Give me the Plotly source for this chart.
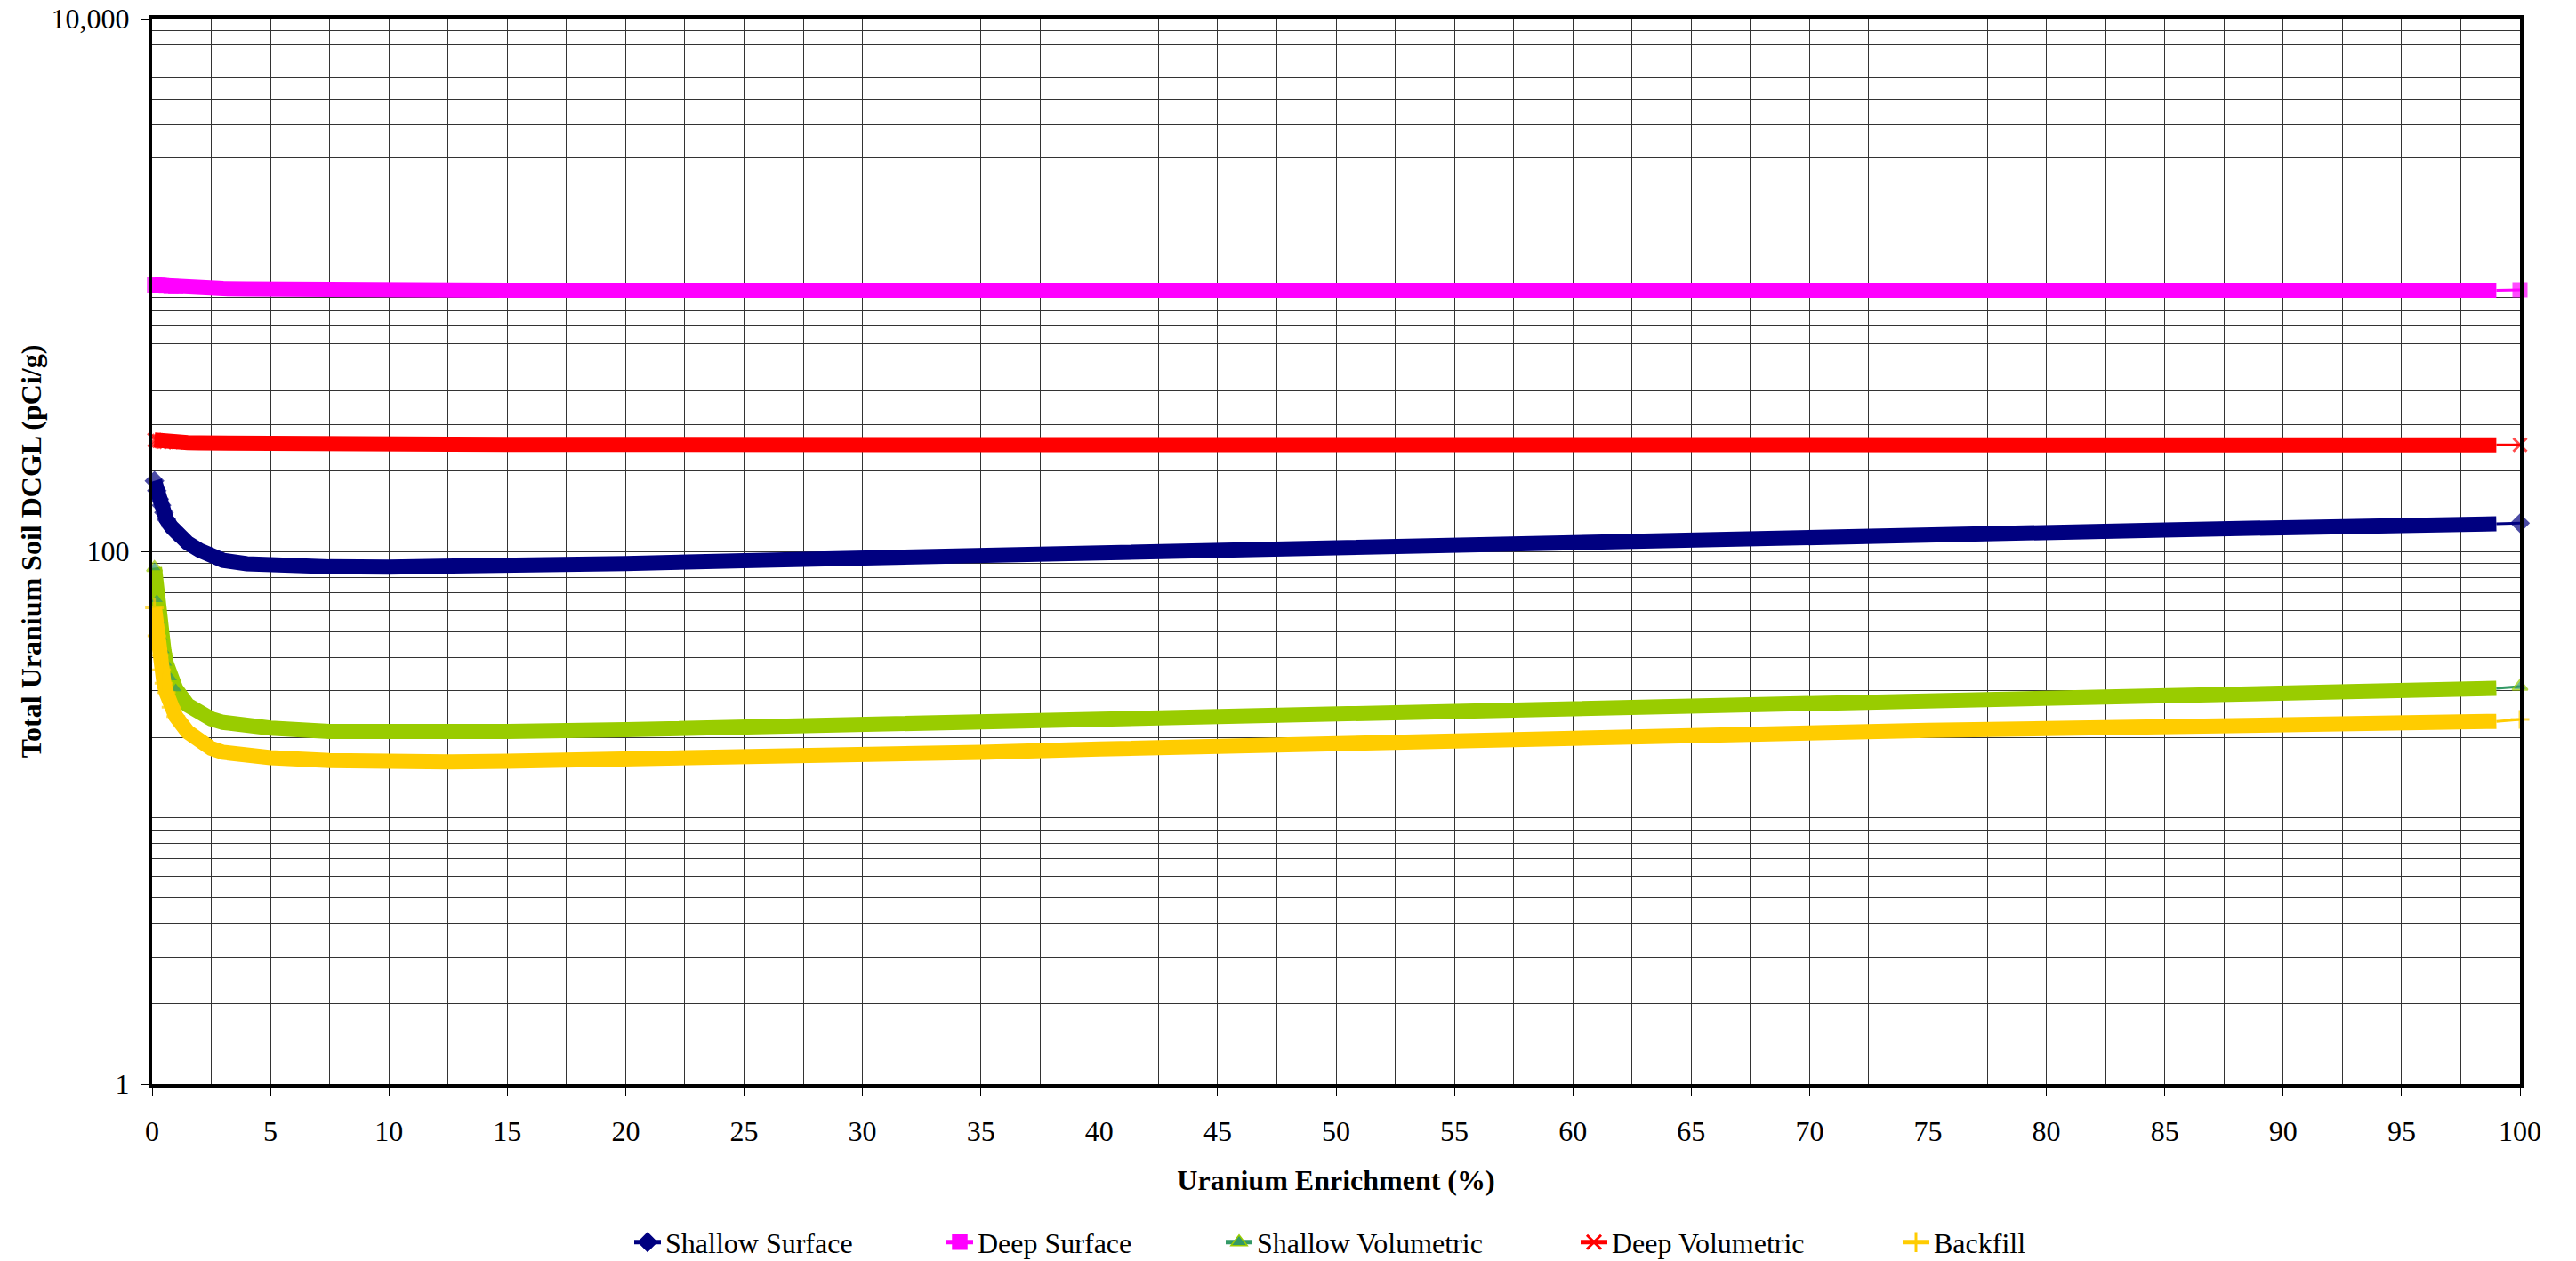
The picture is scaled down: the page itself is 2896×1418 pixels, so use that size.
import plotly.graph_objects as go

# ---------------- data ----------------
enrichment = [0.1, 0.2, 0.3, 0.4, 0.5, 0.6, 0.8, 1.0, 1.5, 2.0, 2.5, 3, 4, 5, 7.5, 10, 12.5, 15,
              20, 25, 30, 35, 40, 45, 50, 55, 60, 65, 70, 75, 80, 85, 90, 95, 99, 100]

shallow_surface = [184, 169, 157, 149, 140, 132, 124, 118, 107.5, 101, 95.7, 92.5, 89.8, 88.4,
                   87.5, 87.3, 87.6, 88.2, 90, 92.3, 94.6, 96.6, 99.4, 101.8, 104, 106.4, 108.8,
                   111.3, 113.6, 115.8, 118, 120.3, 122.7, 125, 126.8, 127.6]

deep_surface = [1000, 998, 996, 994, 992, 990, 987, 984, 979, 975, 972, 969, 966, 963,
                959, 957, 956, 955, 955, 955, 955, 955, 955, 955, 955, 955, 955,
                955, 955, 955, 955, 955, 955, 955, 955, 958]

shallow_volumetric = [86.8, 65.9, 54.7, 47.5, 42.4, 38.0, 33.5, 30.5, 26.5, 24.6, 23.5, 22.8, 22.1, 21.7,
                      21.1, 21.0, 21.0, 21.1, 21.4, 21.9, 22.5, 23.1, 23.7, 24.3, 25.0, 25.6, 26.2,
                      26.9, 27.6, 28.2, 28.7, 29.3, 29.8, 30.3, 30.6, 31.1]

deep_volumetric = [262, 261, 260, 259, 258, 257.5, 257, 256.5, 256, 255.5, 255, 254.5, 254, 253.5,
                   253, 252.5, 252.5, 252, 252, 252, 252, 252, 252, 252, 252, 252, 251.5,
                   251.5, 251.5, 251.5, 251, 251, 251, 251, 251, 251]

backfill = [61.4, 48.2, 40.7, 35.9, 32.0, 29.5, 26.0, 24.0, 21.0, 19.3, 18.2, 17.6, 17.1, 16.8,
            16.4, 16.1, 16.2, 16.3, 16.5, 16.9, 17.3, 17.6, 18.1, 18.6, 19.1, 19.4, 19.9,
            20.4, 20.9, 21.3, 21.6, 22.0, 22.4, 22.8, 23.0, 23.4]

x_ticks = list(range(0, 101, 5))
y_tickvals = [1, 100, 10000]
y_ticktext = ["1", "100", "10,000"]

# ---------------- styling ----------------
FONT = "Liberation Serif"
series = [
    # name, data, band colour, thin line colour, symbol, marker fill, marker line colour, legend key
    ("Shallow Surface", shallow_surface, "#000080", "#000080", "diamond", "#000080", "#000080", "legend"),
    ("Deep Surface", deep_surface, "#FF00FF", "#FF00FF", "square", "#FF00FF", "#FF00FF", "legend2"),
    ("Shallow Volumetric", shallow_volumetric, "#99CC00", "#339966", "triangle-up", "#339966", "#99CC00", "legend3"),
    ("Deep Volumetric", deep_volumetric, "#FF0000", "#FF0000", "x-thin-open", "#FF0000", "#FF0000", "legend4"),
    ("Backfill", backfill, "#FFCC00", "#FFCC00", "cross-thin-open", "#FFCC00", "#FFCC00", "legend5"),
]

fig = go.Figure()
n_dense = len(enrichment) - 1  # last point sits apart at 100 %
# markers stand out individually only in the steep start of the curves
band_marker_size = [15 if x <= 1.0 else 0 for x in enrichment[:n_dense]]

for name, ys, band, thin, sym, mfill, mline, leg in series:
    open_sym = sym.endswith("open")
    mk_band = dict(symbol=sym, size=band_marker_size, color=mfill,
                   line=dict(color=mline, width=3 if open_sym else 2))
    mk_end = dict(symbol=sym, size=[0, 15], color=mfill,
                  line=dict(color=mline, width=3 if open_sym else 2))
    # dense band
    fig.add_trace(go.Scatter(
        x=enrichment[:n_dense], y=ys[:n_dense], mode="lines+markers",
        line=dict(color=band, width=17), marker=mk_band, cliponaxis=False,
        showlegend=False, hoverinfo="skip"))
    # thin connector to the final point
    fig.add_trace(go.Scatter(
        x=enrichment[n_dense - 1:], y=ys[n_dense - 1:], mode="lines+markers",
        line=dict(color=thin, width=3), marker=mk_end, cliponaxis=False,
        showlegend=False, hoverinfo="skip"))
    # legend entry
    fig.add_trace(go.Scatter(
        x=[None], y=[None], mode="lines+markers", name=name, legend=leg,
        line=dict(color=thin if name != "Backfill" else band, width=5),
        marker=dict(symbol=sym, size=16, color=mfill,
                    line=dict(color=mline, width=3 if open_sym else 1.5)),
        showlegend=True))

minor_y = [m * 10 ** k for k in range(0, 4) for m in range(2, 10)] + [10, 1000]

axis_common = dict(
    showline=True, linecolor="black", linewidth=4, mirror=True,
    gridcolor="#333333", gridwidth=1, zeroline=False, ticklabeloverflow="allow",
    tickfont=dict(family=FONT, size=32, color="black"),
)

fig.update_xaxes(
    range=[0, 100], tickvals=x_ticks, ticks="outside", ticklen=10, tickwidth=1,
    tickcolor="black", ticklabelstandoff=12,
    minor=dict(dtick=2.5, tick0=0, showgrid=True, gridcolor="#333333", gridwidth=1, ticks=""),
    title=dict(text="Uranium Enrichment (%)", standoff=27,
               font=dict(family=FONT, size=32, color="black", weight="bold")),
    **axis_common)

fig.update_yaxes(
    type="log", range=[0, 4], tickvals=y_tickvals, ticktext=y_ticktext,
    ticks="outside", ticklen=9, tickwidth=1, tickcolor="black", ticklabelstandoff=6,
    minor=dict(tickmode="array", tickvals=minor_y, showgrid=True, gridcolor="#333333",
               gridwidth=1, ticks=""),
    title=dict(text="Total Uranium Soil DCGL (pCi/g)", standoff=2,
               font=dict(family=FONT, size=32, color="black", weight="bold")),
    **axis_common)

FIG_W, FIG_H = 2896, 1418
PLOT_L, PLOT_R, PLOT_T, PLOT_B = 171, 2833, 21, 1219   # page pixels
legend_text_px = [753, 1104, 1418, 1817, 2179]
legend_keys = ["legend", "legend2", "legend3", "legend4", "legend5"]
leg_layout = {}
for key, px in zip(legend_keys, legend_text_px):
    leg_layout[key] = dict(
        x=(px - 45 - PLOT_L) / (PLOT_R - PLOT_L), xanchor="left",
        y=(PLOT_B - 1397) / (PLOT_B - PLOT_T), yanchor="middle", orientation="h",
        font=dict(family=FONT, size=32, color="black"),
        bgcolor="rgba(0,0,0,0)", itemwidth=30)

fig.update_layout(
    width=FIG_W, height=FIG_H,
    margin=dict(l=PLOT_L, r=FIG_W - PLOT_R, t=PLOT_T, b=FIG_H - PLOT_B, autoexpand=False),
    paper_bgcolor="white", plot_bgcolor="white",
    font=dict(family=FONT, size=32, color="black"),
    **leg_layout)

# remove the browser's default 8 px body margin so the figure fills the window exactly
fig.write_html("out.html", config={"displayModeBar": False},
               post_script="document.body.style.margin='0px';")
